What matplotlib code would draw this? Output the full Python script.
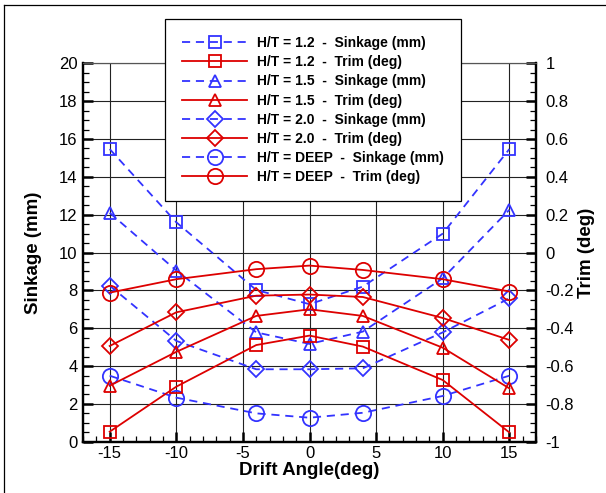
import matplotlib
matplotlib.use("Agg")
import matplotlib.pyplot as plt
from matplotlib.lines import Line2D
from matplotlib.ticker import MultipleLocator

plt.rcParams['font.family'] = ['Liberation Sans', 'DejaVu Sans']
plt.rcParams['axes.unicode_minus'] = False

# drift angles (deg)
angles = [-15, -10, -4, 0, 4, 10, 15]

# sinkage (mm) and trim (deg) for each depth ratio
sink_12 = [15.47, 11.6, 8.02, 7.27, 8.2, 11.0, 15.47]
trim_12 = [-0.947, -0.709, -0.489, -0.439, -0.497, -0.674, -0.951]
sink_15 = [12.1, 9.05, 5.78, 5.17, 5.82, 8.64, 12.26]
trim_15 = [-0.704, -0.525, -0.335, -0.30, -0.335, -0.503, -0.718]
sink_20 = [8.25, 5.33, 3.83, 3.83, 3.88, 5.78, 7.58]
trim_20 = [-0.494, -0.316, -0.228, -0.222, -0.235, -0.346, -0.462]
sink_deep = [3.49, 2.33, 1.5, 1.27, 1.53, 2.42, 3.49]
trim_deep = [-0.212, -0.141, -0.088, -0.069, -0.092, -0.141, -0.206]

cases = ['1.2', '1.5', '2.0', 'DEEP']
markers = ['s', '^', 'D', 'o']
msizes = [8.6, 9.0, 7.8, 11.0]
sinks = [sink_12, sink_15, sink_20, sink_deep]
trims = [trim_12, trim_15, trim_20, trim_deep]

blue = '#3333ff'
red = '#dd0000'

fig = plt.figure(figsize=(6.06, 4.93), dpi=100)
ax = fig.add_axes([0.137, 0.104, 0.7475, 0.7675])
ax2 = ax.twinx()

handles = []
for c, m, ms, s, t in zip(cases, markers, msizes, sinks, trims):
    hs, = ax.plot(angles, s, color=blue, lw=1.3, linestyle=(0, (4.5, 3.2)),
                  marker=m, ms=ms, mfc='none', mec=blue, mew=1.3,
                  label='H/T = %s  -  Sinkage (mm)' % c)
    ht, = ax2.plot(angles, t, color=red, lw=1.3, marker=m, ms=ms,
                   mfc='none', mec=red, mew=1.3,
                   label='H/T = %s  -  Trim (deg)' % c)
    handles += [hs, ht]

ax.set_xlim(-17, 17)
ax.set_ylim(0, 20)
ax2.set_ylim(-1, 1)

ax.xaxis.set_major_locator(MultipleLocator(5))
ax.xaxis.set_minor_locator(MultipleLocator(1))
ax.yaxis.set_major_locator(MultipleLocator(2))
ax.yaxis.set_minor_locator(MultipleLocator(0.5))
ax2.yaxis.set_minor_locator(MultipleLocator(0.05))
ax2.set_yticks([-1, -0.8, -0.6, -0.4, -0.2, 0, 0.2, 0.4, 0.6, 0.8, 1])
ax2.set_yticklabels(['-1', '-0.8', '-0.6', '-0.4', '-0.2', '0',
                     '0.2', '0.4', '0.6', '0.8', '1'])

ax.grid(True, which='major', color='#222222', lw=0.8)
ax.set_axisbelow(True)

for a in (ax, ax2):
    a.tick_params(which='major', direction='in', length=7, width=1.8,
                  labelsize=12)
    a.tick_params(which='minor', direction='in', length=4.5, width=0.9)
    for sp in ('left', 'bottom', 'right'):
        a.spines[sp].set_linewidth(1.6)
    a.spines['top'].set_linewidth(0.8)
    a.spines['top'].set_color('#555555')
ax.tick_params(axis='y', which='both', left=True, right=False, pad=4)
ax.tick_params(axis='x', which='both', top=False, pad=3)
ax2.tick_params(axis='y', which='both', right=True, pad=7)

ax.set_xlabel('Drift Angle(deg)', fontsize=13.5, fontweight='bold')
ax.set_ylabel('Sinkage (mm)', fontsize=13.5, fontweight='bold')
ax2.set_ylabel('Trim (deg)', fontsize=13.5, fontweight='bold')
ax.xaxis.set_label_coords(0.5, -0.077)
ax.xaxis.label.set_va('center')
ax.yaxis.set_label_coords(-0.110, 0.5)
ax.yaxis.label.set_va('center')
ax2.yaxis.set_label_coords(1.112, 0.5)
ax2.yaxis.label.set_va('center')

leg = ax2.legend(handles=handles, loc='upper left',
                 bbox_to_anchor=(0.272, 0.962), bbox_transform=fig.transFigure,
                 prop={'weight': 'bold', 'size': 10}, frameon=True,
                 fancybox=False, framealpha=1, edgecolor='black',
                 handlelength=4.7, handletextpad=0.7, labelspacing=0.37,
                 borderpad=1.25, borderaxespad=0, numpoints=1)
leg.get_frame().set_linewidth(0.9)

# outer frame of the figure (only left and top edges show)
fig.add_artist(Line2D([0.0074, 0.0074], [0, 0.9899], color='black', lw=0.9,
                      transform=fig.transFigure))
fig.add_artist(Line2D([0.0074, 1], [0.9899, 0.9899], color='black', lw=0.9,
                      transform=fig.transFigure))

fig.savefig('out.png', dpi=100)
